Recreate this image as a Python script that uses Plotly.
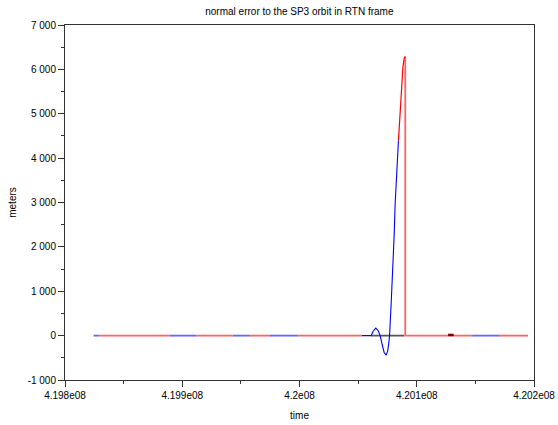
import plotly.graph_objects as go

# ---- data (time in seconds, normal error in meters) ----
blue_t1 = [419824400, 419828900]
blue_v1 = [0, 0]
red_t1 = [419828900, 419889300]
red_v1 = [0, 0]
blue_t2 = [419889300, 419912100]
blue_v2 = [0, 0]
red_t2 = [419912100, 419943200]
red_v2 = [0, 0]
blue_t3 = [419943200, 419957700]
blue_v3 = [0, 0]
red_t3 = [419957700, 419974800]
red_v3 = [0, 0]
blue_t4 = [419974800, 419998500]
blue_v4 = [0, 0]
red_t4 = [419998500, 420053200]
red_v4 = [0, 0]

black_t = [420061100, 420089300]
black_v = [0, 0]

blue_t5 = [420053200, 420061100, 420062800, 420065100, 420067100, 420068800,
           420070500, 420072200, 420073900, 420075200, 420076100, 420076800,
           420078200, 420080200, 420080800, 420081600, 420082500, 420083600,
           420084400]
blue_v5 = [0, 0, 100, 170, 110, 0,
           -200, -380, -440, -350, -180, 0,
           735, 1780, 2310, 2990, 3500, 4110,
           4400]

red_t5 = [420084400, 420085900, 420087400, 420088200, 420089300, 420089700,
          420090200]
red_v5 = [4400, 5150, 5690, 6050, 6250, 6290,
          6290]

red_t7 = [420090200, 420090200, 420147200]
red_v7 = [6290, 0, 0]

darkred_t = [420126700, 420131500]
darkred_v = [15, 15]

blue_t6 = [420147200, 420170800]
blue_v6 = [0, 0]
red_t6 = [420170800, 420194200]
red_v6 = [0, 0]
blue_t7 = [420194200, 420194900]
blue_v7 = [0, 0]

x_tickvals = [4.198e8, 4.199e8, 4.2e8, 4.201e8, 4.202e8]
x_ticktext = ["4.198e08", "4.199e08", "4.2e08", "4.201e08", "4.202e08"]
y_tickvals = [-1000, 0, 1000, 2000, 3000, 4000, 5000, 6000, 7000]
y_ticktext = ["-1 000", "0", "1 000", "2 000", "3 000", "4 000", "5 000", "6 000", "7 000"]

BLUE = "#0000ff"
RED = "#ff0000"
PALE_RED = "#ff6464"
PALE_BLUE = "#6464ff"

segments = [
    (red_t1, red_v1, PALE_RED, 1.8),
    (red_t2, red_v2, PALE_RED, 1.8),
    (red_t3, red_v3, PALE_RED, 1.8),
    (red_t4, red_v4, PALE_RED, 1.8),
    (red_t6, red_v6, PALE_RED, 1.8),
    (red_t7, red_v7, PALE_RED, 1.8),
    (blue_t1, blue_v1, PALE_BLUE, 1.8),
    (blue_t2, blue_v2, PALE_BLUE, 1.8),
    (blue_t3, blue_v3, PALE_BLUE, 1.8),
    (blue_t4, blue_v4, PALE_BLUE, 1.8),
    (blue_t6, blue_v6, PALE_BLUE, 1.8),
    (blue_t7, blue_v7, PALE_BLUE, 1.8),
    (black_t, black_v, "#555555", 1.8),
    (blue_t5, blue_v5, BLUE, 1.1),
    (red_t5, red_v5, RED, 1.2),
    (darkred_t, darkred_v, "#800000", 2.5),
]

fig = go.Figure()
for t, v, c, w in segments:
    fig.add_trace(go.Scatter(x=t, y=v, mode="lines",
                             line=dict(color=c, width=w),
                             showlegend=False, hoverinfo="skip"))

FONT = "Liberation Sans, Arial, sans-serif"
axis_common = dict(
    showgrid=False, zeroline=False, showline=True, mirror=True,
    linecolor="#333333", linewidth=1, ticks="outside", ticklen=6,
    tickcolor="#333333", tickwidth=1, automargin=False,
    tickfont=dict(family=FONT, size=10, color="#000000"),
)

fig.update_layout(
    width=558, height=425,
    margin=dict(l=65, r=24, t=25, b=45),
    paper_bgcolor="white", plot_bgcolor="white",
    title=dict(text="normal error to the SP3 orbit in RTN frame",
               x=0.5365, xanchor="center", y=0.974, yanchor="middle",
               font=dict(family=FONT, size=10, color="#000000")),
    xaxis=dict(range=[4.198e8, 4.202e8], tickmode="array",
               tickvals=x_tickvals, ticktext=x_ticktext,
               minor=dict(tickmode="linear", tick0=4.198e8, dtick=5e4, ticklen=3,
                          ticks="outside", tickcolor="#333333"),
               title=dict(text="time", standoff=11,
                          font=dict(family=FONT, size=10, color="#000000")),
               **axis_common),
    yaxis=dict(range=[-1000, 7000], tickmode="array",
               tickvals=y_tickvals, ticktext=y_ticktext,
               minor=dict(tickmode="linear", tick0=-1000, dtick=500, ticklen=3,
                          ticks="outside", tickcolor="#333333"),
               title=dict(text="meters", standoff=9,
                          font=dict(family=FONT, size=10, color="#000000")),
               **axis_common),
)

fig.write_html("out.html")
